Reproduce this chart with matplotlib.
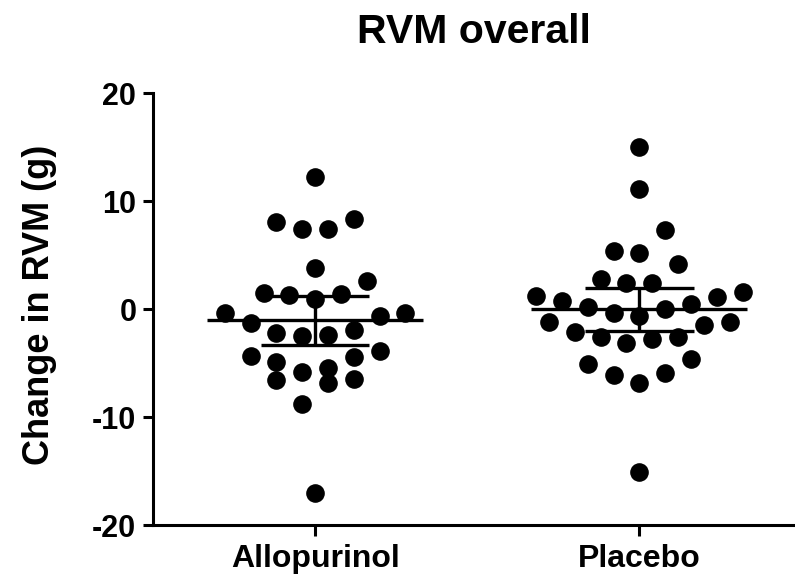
import numpy as np
import matplotlib
matplotlib.use("Agg")
import matplotlib.pyplot as plt

plt.rcParams['font.family'] = ['Liberation Sans', 'DejaVu Sans']
plt.rcParams['font.weight'] = 'bold'
plt.rcParams['axes.unicode_minus'] = False

groups = ["Allopurinol", "Placebo"]

allopurinol = [12.2, 8.03, 7.41, 7.41, 8.33, 3.83, 2.62, 1.39, 0.9, 1.30, 1.51,
               -0.34, -0.65, -1.33, -0.34, -1.94, -2.41, -2.5, -2.19,
               -4.32, -4.88, -4.48, -3.86, -5.8, -6.51, -6.88, -5.43, -6.57,
               -8.8, -17.07]
placebo = [14.97, 11.08, 7.31, 5.4, 5.2, 4.17, 2.75, 2.38, 2.44, 1.2, 0.77,
           1.14, 1.54, 0.21, -0.34, -0.65, -0.03, 0.46,
           -1.23, -2.16, -2.56, -3.12, -2.81, -2.56, -1.48, -1.17,
           -5.09, -6.11, -6.88, -5.9, -4.66, -15.06]

y_ticks = [-20, -10, 0, 10, 20]

# two-sided 95% t quantiles for n-1 degrees of freedom
T975 = {29: 2.045, 31: 2.040}

DOT_GAP_PX = 25.8


def swarm_offsets(values, dx, row_h):
    # group sorted values into rows, then spread each row around the centre
    vals = np.asarray(values)
    order = np.argsort(vals, kind="stable")
    rows, cur = [], [order[0]]
    for i in order[1:]:
        if vals[i] - vals[cur[0]] < row_h:
            cur.append(i)
        else:
            rows.append(cur)
            cur = [i]
    rows.append(cur)

    offs = np.zeros(len(vals))
    for row in rows:
        n = len(row)
        if n % 2:
            slots = [0.0]
            for k in range(1, n // 2 + 1):
                slots += [-k, k]
        else:
            slots = []
            for k in range(n // 2):
                slots += [-(k + 0.5), k + 0.5]
        for i, s in zip(row, slots):
            offs[i] = s * dx
    return offs


fig = plt.figure(figsize=(7.95, 5.82), dpi=100)
ax = fig.add_axes([0.1925, 0.0979, 0.8075, 0.7423])
ax.set_xlim(0.5, 2.48)
ax.set_ylim(-20, 20)

# pixel scale of the data axes, used for the dot layout
p0, p1 = ax.transData.transform([(0, 0), (1, 1)])
px_x, px_y = p1 - p0
dx = DOT_GAP_PX / px_x
row_h = DOT_GAP_PX / px_y

for pos, vals in zip([1, 2], [allopurinol, placebo]):
    vals = np.asarray(vals)
    xs = pos + swarm_offsets(vals, dx, row_h)
    ax.plot(xs, vals, 'o', color='black', markersize=12.4, zorder=3,
            clip_on=False)

    n = len(vals)
    mean = vals.mean()
    ci = T975[n - 1] * vals.std(ddof=1) / np.sqrt(n)
    ax.hlines(mean, pos - 0.333, pos + 0.333, color='black', lw=2.4, zorder=4)
    ax.hlines([mean - ci, mean + ci], pos - 0.167, pos + 0.167,
              color='black', lw=2.4, zorder=4)
    ax.vlines(pos, mean - ci, mean + ci, color='black', lw=2.4, zorder=4)

ax.set_xticks([1, 2])
ax.set_xticklabels(groups)
ax.set_yticks(y_ticks)

for side in ['top', 'right']:
    ax.spines[side].set_visible(False)
for side in ['left', 'bottom']:
    ax.spines[side].set_linewidth(2.2)

ax.tick_params(axis='y', length=7, width=2.2, labelsize=22, pad=5)
ax.tick_params(axis='x', length=8, width=2.2, labelsize=23, pad=6)

ax.set_ylabel("Change in RVM (g)", fontsize=26, fontweight='bold')
ax.yaxis.set_label_coords(-0.15, 0.51)
ax.set_title("RVM overall", fontsize=29.5, fontweight='bold', pad=36)

fig.savefig("out.png", dpi=100)
